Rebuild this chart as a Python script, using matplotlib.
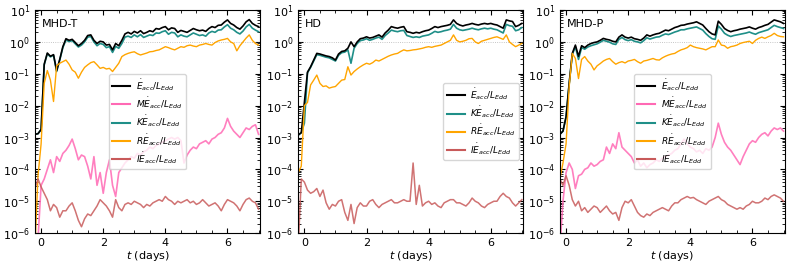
import matplotlib
matplotlib.use("Agg")
import matplotlib.pyplot as plt
from matplotlib.ticker import MultipleLocator, FixedLocator, NullFormatter, LogFormatterSciNotation
import numpy as np

# time grid (days), one value every 0.1 d
t = np.round(np.arange(-0.2, 7.0001, 0.1), 2)

# values are log10(E_dot / L_Edd)
# ---------------- MHD-T ----------------
mhdt_E = [-2.90, -2.88, -2.75, -0.70, -0.35, -0.45, -0.40, -0.90, -0.55, -0.15,
          0.10, 0.05, 0.08, -0.02, -0.12, -0.05, 0.05, 0.20, 0.22, 0.05,
          -0.05, 0.02, 0.00, -0.10, -0.08, -0.25, -0.05, -0.12, 0.05, 0.25,
          0.30, 0.25, 0.33, 0.28, 0.35, 0.26, 0.30, 0.35, 0.32, 0.42,
          0.40, 0.45, 0.48, 0.38, 0.44, 0.42, 0.30, 0.36, 0.33, 0.30,
          0.36, 0.42, 0.38, 0.35, 0.37, 0.33, 0.42, 0.48, 0.45, 0.52,
          0.53, 0.62, 0.69, 0.58, 0.53, 0.45, 0.40, 0.50, 0.63, 0.70,
          0.58, 0.52, 0.48]
mhdt_M = [-6.50, -6.20, -4.50, -4.30, -4.00, -3.70, -4.10, -3.60, -3.75, -3.50,
          -3.40, -3.25, -3.05, -3.35, -3.70, -3.55, -3.60, -3.90, -4.30, -3.60,
          -4.50, -4.10, -4.75, -4.10, -3.70, -4.50, -4.85, -4.10, -3.95, -3.80,
          -3.70, -3.60, -3.65, -3.50, -3.55, -3.45, -3.40, -3.30, -3.35, -3.25,
          -3.20, -3.15, -3.10, -3.05, -3.00, -3.05, -3.00, -3.10, -3.80, -3.55,
          -3.40, -3.30, -3.35, -3.20, -3.15, -3.10, -3.20, -3.05, -3.00, -2.90,
          -2.85, -2.70, -2.40, -2.65, -2.80, -2.90, -3.00, -2.85, -2.70, -2.75,
          -2.65, -2.60, -2.90]
mhdt_K = [-2.90, -2.88, -2.75, -0.72, -0.37, -0.47, -0.42, -0.93, -0.57, -0.18,
          0.06, 0.01, 0.04, -0.06, -0.16, -0.10, 0.00, 0.15, 0.17, 0.00,
          -0.12, -0.05, -0.08, -0.18, -0.15, -0.33, -0.14, -0.20, -0.05, 0.15,
          0.18, 0.14, 0.22, 0.16, 0.23, 0.14, 0.18, 0.22, 0.20, 0.28,
          0.27, 0.32, 0.35, 0.24, 0.30, 0.28, 0.16, 0.22, 0.18, 0.16,
          0.22, 0.28, 0.24, 0.20, 0.22, 0.18, 0.28, 0.33, 0.30, 0.37,
          0.38, 0.47, 0.54, 0.43, 0.38, 0.30, 0.25, 0.34, 0.47, 0.55,
          0.43, 0.37, 0.32]
mhdt_R = [-6.50, -4.20, -3.20, -1.30, -0.90, -1.20, -1.87, -0.75, -0.67, -0.62,
          -0.57, -0.70, -0.88, -0.95, -1.14, -0.95, -0.80, -0.72, -0.65, -0.62,
          -0.72, -0.83, -0.80, -0.85, -0.83, -0.93, -0.80, -0.67, -0.46, -0.40,
          -0.36, -0.33, -0.31, -0.37, -0.41, -0.38, -0.35, -0.31, -0.30, -0.27,
          -0.25, -0.20, -0.15, -0.18, -0.22, -0.25, -0.20, -0.15, -0.17, -0.12,
          -0.10, -0.13, -0.15, -0.10, -0.08, -0.05, -0.08, -0.10, -0.02, 0.03,
          0.06, 0.08, 0.11, 0.00, -0.05, -0.28, -0.12, 0.00, 0.12, 0.22,
          0.05, -0.05, -0.10]
mhdt_I = [-4.60, -4.30, -4.55, -4.75, -4.95, -5.30, -5.10, -5.20, -5.50, -5.30,
          -5.30, -5.15, -5.05, -5.30, -5.60, -5.80, -5.55, -5.40, -5.45, -5.30,
          -5.15, -4.95, -5.05, -5.15, -5.30, -5.50, -4.95, -5.20, -5.30, -5.10,
          -5.05, -5.10, -5.00, -5.05, -5.10, -5.20, -5.10, -5.15, -5.05, -5.00,
          -4.95, -5.00, -4.85, -4.95, -5.00, -5.10, -5.00, -5.05, -5.00, -4.95,
          -5.05, -5.00, -5.10, -5.05, -4.95, -5.05, -5.15, -5.10, -5.05, -5.15,
          -5.30, -5.10, -4.95, -5.00, -5.05, -5.15, -5.30, -5.10, -4.95, -4.90,
          -5.00, -5.05, -5.25]

# ---------------- HD ----------------
hd_E = [-2.92, -2.85, -1.90, -0.95, -0.78, -0.57, -0.36, -0.38, -0.41, -0.44,
        -0.46, -0.50, -0.57, -0.38, -0.30, -0.28, -0.20, 0.00, -0.15, 0.00,
        0.10, 0.12, 0.16, 0.12, 0.14, 0.18, 0.22, 0.15, 0.28, 0.37,
        0.48, 0.45, 0.43, 0.46, 0.48, 0.32, 0.30, 0.27, 0.30, 0.28,
        0.32, 0.35, 0.37, 0.42, 0.48, 0.45, 0.48, 0.50, 0.52, 0.55,
        0.69, 0.58, 0.53, 0.50, 0.53, 0.55, 0.58, 0.55, 0.53, 0.56,
        0.58, 0.56, 0.58, 0.55, 0.53, 0.48, 0.43, 0.69, 0.66, 0.64,
        0.48, 0.52, 0.58]
hd_K = [-2.93, -2.85, -2.55, -0.97, -0.80, -0.60, -0.40, -0.42, -0.45, -0.48,
        -0.50, -0.55, -0.60, -0.42, -0.34, -0.32, -0.25, -0.67, -0.20, -0.05,
        0.04, 0.06, 0.10, 0.05, 0.08, 0.12, 0.15, 0.08, 0.20, 0.28,
        0.37, 0.34, 0.32, 0.35, 0.36, 0.20, 0.17, 0.14, 0.16, 0.14,
        0.18, 0.20, 0.22, 0.27, 0.33, 0.30, 0.32, 0.35, 0.37, 0.40,
        0.55, 0.43, 0.38, 0.36, 0.38, 0.40, 0.43, 0.40, 0.38, 0.41,
        0.43, 0.41, 0.43, 0.40, 0.38, 0.33, 0.28, 0.55, 0.51, 0.49,
        0.35, 0.38, 0.45]
hd_R = [-4.10, -3.90, -2.00, -1.90, -1.35, -1.20, -1.04, -1.30, -1.40, -1.38,
        -1.45, -1.42, -1.40, -1.30, -1.20, -1.18, -0.78, -1.04, -0.93, -0.85,
        -0.78, -0.72, -0.67, -0.70, -0.65, -0.57, -0.60, -0.55, -0.50, -0.45,
        -0.41, -0.38, -0.36, -0.30, -0.25, -0.28, -0.27, -0.25, -0.24, -0.22,
        -0.20, -0.17, -0.15, -0.17, -0.14, -0.12, -0.10, -0.05, 0.00, 0.05,
        0.22, 0.05, 0.00, 0.02, 0.05, 0.10, 0.11, 0.00, -0.05, 0.02,
        0.05, 0.08, 0.11, 0.14, 0.16, 0.12, 0.08, 0.22, 0.00, -0.08,
        -0.15, -0.10, -0.05]
hd_I = [-6.50, -4.30, -4.40, -4.65, -4.75, -4.70, -4.60, -4.85, -4.65, -5.05,
        -5.25, -5.10, -5.15, -5.00, -4.95, -5.35, -5.60, -5.10, -5.70, -5.20,
        -5.05, -5.15, -5.15, -5.00, -4.95, -5.10, -5.20, -5.10, -5.05, -5.00,
        -4.95, -5.05, -5.05, -5.00, -4.95, -5.00, -5.00, -3.80, -5.10, -4.50,
        -5.15, -5.05, -5.00, -5.10, -5.05, -5.15, -5.20, -5.05, -5.00, -4.95,
        -4.95, -5.05, -5.05, -5.10, -5.15, -5.05, -4.90, -5.00, -5.05, -5.15,
        -5.20, -5.10, -5.05, -5.00, -5.00, -4.85, -4.75, -4.85, -4.90, -5.05,
        -5.15, -5.05, -4.95]

# ---------------- MHD-P ----------------
mhdp_E = [-2.90, -2.80, -2.35, -1.30, -0.36, -0.10, -0.45, -0.12, -0.18, -0.10,
          -0.05, -0.02, 0.00, 0.05, 0.11, 0.08, 0.06, 0.02, 0.00, 0.15,
          0.22, 0.15, 0.12, 0.15, 0.10, 0.08, 0.05, 0.12, 0.22, 0.18,
          0.22, 0.25, 0.27, 0.32, 0.37, 0.35, 0.40, 0.45, 0.48, 0.52,
          0.53, 0.56, 0.58, 0.60, 0.63, 0.58, 0.53, 0.42, 0.32, 0.25,
          0.22, 0.65, 0.55, 0.42, 0.36, 0.32, 0.35, 0.37, 0.40, 0.42,
          0.44, 0.47, 0.43, 0.40, 0.45, 0.48, 0.52, 0.55, 0.62, 0.69,
          0.66, 0.63, 0.58]
mhdp_M = [-6.50, -5.00, -4.10, -3.80, -4.00, -4.60, -4.20, -4.15, -4.00, -3.95,
          -3.80, -3.90, -3.85, -3.75, -3.70, -3.30, -3.50, -3.20, -3.35, -2.85,
          -3.30, -3.40, -3.50, -3.60, -3.80, -3.70, -3.90, -3.80, -3.95, -3.85,
          -3.80, -3.70, -3.75, -3.65, -3.60, -3.55, -3.50, -3.40, -3.35, -3.20,
          -3.05, -3.20, -3.30, -3.35, -3.45, -3.40, -3.50, -3.35, -3.40, -3.30,
          -3.00, -2.55, -2.90, -3.15, -3.30, -3.40, -3.55, -3.70, -3.85, -3.60,
          -3.40, -3.20, -3.10, -3.15, -3.00, -2.90, -2.85, -2.95, -2.80, -2.70,
          -2.75, -2.70, -2.80]
mhdp_K = [-2.90, -2.80, -2.35, -1.32, -0.40, -0.15, -0.55, -0.18, -0.23, -0.16,
          -0.12, -0.09, -0.06, -0.01, 0.05, 0.02, -0.01, -0.06, -0.08, 0.08,
          0.14, 0.07, 0.04, 0.07, 0.02, 0.00, -0.03, 0.04, 0.13, 0.09,
          0.12, 0.15, 0.16, 0.21, 0.25, 0.23, 0.27, 0.31, 0.34, 0.38,
          0.38, 0.41, 0.43, 0.45, 0.47, 0.42, 0.37, 0.26, 0.17, 0.10,
          0.08, 0.50, 0.40, 0.27, 0.21, 0.17, 0.20, 0.22, 0.24, 0.26,
          0.28, 0.31, 0.27, 0.24, 0.29, 0.32, 0.35, 0.38, 0.45, 0.52,
          0.48, 0.45, 0.42]
mhdp_R = [-4.30, -3.80, -3.20, -1.40, -0.36, -0.52, -1.15, -0.55, -0.46, -0.60,
          -0.70, -0.88, -0.75, -0.68, -0.60, -0.55, -0.52, -0.62, -0.70, -0.65,
          -0.62, -0.66, -0.60, -0.58, -0.55, -0.62, -0.67, -0.60, -0.58, -0.55,
          -0.52, -0.56, -0.57, -0.50, -0.45, -0.41, -0.38, -0.36, -0.30, -0.25,
          -0.22, -0.18, -0.10, -0.15, -0.18, -0.20, -0.22, -0.25, -0.20, -0.15,
          -0.15, 0.06, -0.10, -0.12, -0.20, -0.15, -0.13, -0.10, -0.05, -0.02,
          0.00, 0.02, -0.05, 0.05, 0.11, 0.15, 0.11, 0.16, 0.20, 0.27,
          0.20, 0.17, 0.16]
mhdp_I = [-4.30, -4.50, -4.20, -4.50, -4.95, -5.15, -5.00, -5.30, -5.20, -5.35,
          -5.25, -5.15, -5.20, -5.35, -5.25, -5.15, -5.30, -5.40, -5.35, -5.60,
          -5.20, -5.00, -5.05, -4.95, -5.15, -5.35, -5.45, -5.50, -5.40, -5.45,
          -5.35, -5.30, -5.25, -5.20, -5.25, -5.30, -5.15, -5.05, -5.05, -4.95,
          -4.90, -4.85, -4.90, -4.88, -4.95, -5.00, -5.05, -5.10, -5.00, -4.95,
          -4.90, -4.85, -4.95, -5.00, -5.10, -5.15, -5.20, -5.25, -5.20, -5.25,
          -5.15, -5.10, -5.00, -5.05, -5.05, -5.00, -4.90, -4.95, -4.85, -4.80,
          -4.85, -4.90, -5.00]

labels = {
    'E': r'$\dot{E}_{acc}/L_{Edd}$',
    'M': r'$M\dot{E}_{acc}/L_{Edd}$',
    'K': r'$K\dot{E}_{acc}/L_{Edd}$',
    'R': r'$R\dot{E}_{acc}/L_{Edd}$',
    'I': r'$I\dot{E}_{acc}/L_{Edd}$',
}
colors = {'E': 'black', 'M': '#ff69b4', 'K': '#1f8f88', 'R': 'orange', 'I': '#c85a5a'}
widths = {'E': 1.2, 'M': 1.2, 'K': 1.2, 'R': 1.0, 'I': 1.1}

panels = [
    ('MHD-T', {'E': mhdt_E, 'M': mhdt_M, 'K': mhdt_K, 'R': mhdt_R, 'I': mhdt_I}, 'center'),
    ('HD', {'E': hd_E, 'K': hd_K, 'R': hd_R, 'I': hd_I}, 'center right'),
    ('MHD-P', {'E': mhdp_E, 'M': mhdp_M, 'K': mhdp_K, 'R': mhdp_R, 'I': mhdp_I}, 'center'),
]

fig = plt.figure(figsize=(7.93, 2.64), dpi=100)
lefts = [0.044, 0.376, 0.706]
major_y = [10.0 ** k for k in range(-6, 2)]
minor_y = [m * 10.0 ** k for k in range(-6, 1) for m in range(2, 10)]

for left, (name, series, loc) in zip(lefts, panels):
    ax = fig.add_axes([left, 0.117, 0.284, 0.845])
    ax.axhline(1.0, color='gray', ls=':', lw=0.6, alpha=0.6)
    # draw K first so E sits on top, like the original
    for key in ['K', 'E', 'M', 'R', 'I']:
        if key not in series:
            continue
        ax.plot(t, 10.0 ** np.array(series[key]), color=colors[key], lw=widths[key],
                alpha=0.85 if key in ('M', 'I') else 1.0, label=labels[key])
    # legend in original order
    handles, labs = ax.get_legend_handles_labels()
    order = [k for k in ['E', 'M', 'K', 'R', 'I'] if k in series]
    hmap = dict(zip(labs, handles))
    leg = ax.legend([hmap[labels[k]] for k in order], [labels[k] for k in order],
                    loc=loc, fontsize=6.5, handlelength=2.0, borderpad=0.4,
                    labelspacing=0.3, handletextpad=0.6)
    for line in leg.get_lines():
        line.set_linewidth(1.5)
        line.set_alpha(1.0)
    ax.set_yscale('log')
    ax.set_ylim(1e-6, 10)
    ax.set_xlim(-0.2, 7.05)
    ax.xaxis.set_major_locator(MultipleLocator(2))
    ax.xaxis.set_minor_locator(MultipleLocator(0.5))
    ax.yaxis.set_major_locator(FixedLocator(major_y))
    ax.yaxis.set_major_formatter(LogFormatterSciNotation())
    ax.yaxis.set_minor_locator(FixedLocator(minor_y))
    ax.yaxis.set_minor_formatter(NullFormatter())
    ax.tick_params(which='both', direction='in', top=True, right=True, labelsize=8)
    ax.tick_params(which='major', length=3.5)
    ax.tick_params(which='minor', length=2)
    ax.set_xlabel(r'$t$ (days)', fontsize=8, labelpad=1)
    ax.text(0.03, 0.96, name, transform=ax.transAxes, fontsize=8, va='top', ha='left')

fig.savefig('out.png', dpi=100)
